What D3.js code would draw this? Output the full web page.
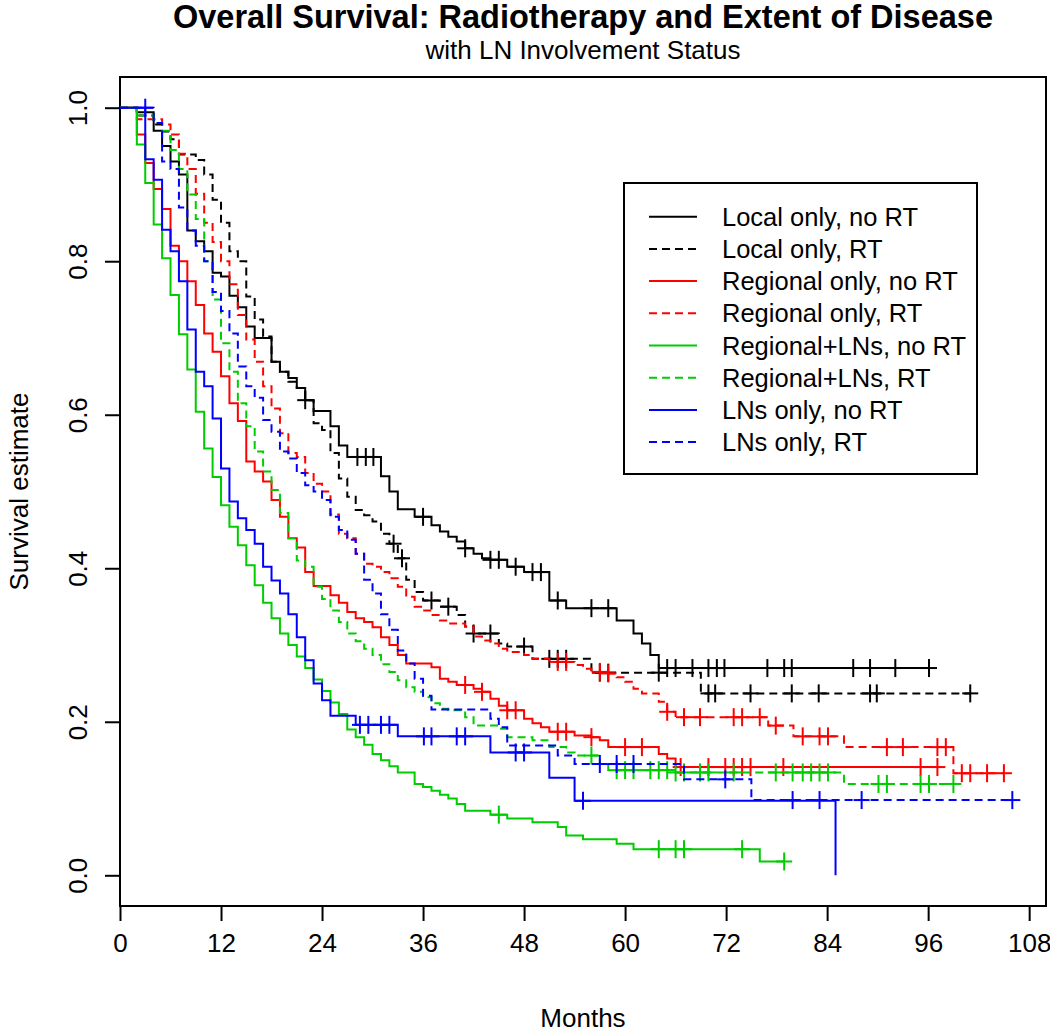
<!DOCTYPE html>
<html>
<head>
<meta charset="utf-8">
<script src="https://cdn.jsdelivr.net/npm/d3@7"></script>
<style>
  body { margin: 0; background: #fff; }
  text { font-family: "Liberation Sans", Arial, sans-serif; fill: #000; }
</style>
</head>
<body>
<svg width="1050" height="1032"></svg>
<script>
// Kaplan-Meier steps: [month, survival after the drop]
const localNoRT = [[0,1],[2,0.994],[4,0.97],[5,0.95],[6,0.93],[7,0.913],[8,0.84],[9,0.826],[10,0.813],[11,0.785],[12,0.78],[13,0.755],[14,0.74],[15,0.715],[16,0.70],[18,0.669],[19,0.656],[20,0.648],[21,0.635],[22,0.619],[23,0.605],[25,0.585],[26,0.56],[27,0.545],[31,0.52],[32,0.50],[33,0.477],[35,0.467],[37,0.456],[38,0.448],[39,0.441],[40,0.435],[41,0.426],[42,0.419],[43,0.413],[44,0.411],[46,0.402],[48,0.395],[51,0.358],[53,0.348],[59,0.332],[61,0.315],[62,0.302],[63,0.287],[64,0.27]];
const localRT = [[0,1],[2,0.99],[4,0.978],[5,0.969],[6,0.959],[7,0.939],[9,0.932],[10,0.913],[11,0.88],[12,0.85],[13,0.813],[14,0.80],[15,0.754],[16,0.724],[17,0.702],[18,0.669],[19,0.656],[20,0.643],[21,0.635],[22,0.619],[23,0.589],[24,0.58],[25,0.55],[26,0.517],[27,0.493],[28,0.476],[29,0.469],[30,0.461],[31,0.445],[32,0.432],[33,0.413],[34,0.385],[35,0.369],[36,0.358],[38,0.35],[40,0.339],[41,0.324],[42,0.315],[45,0.302],[46,0.298],[49,0.282],[56,0.264],[69,0.237]];
const regionalNoRT = [[0,1],[2,0.965],[3,0.928],[4,0.894],[5,0.868],[6,0.82],[7,0.80],[8,0.774],[9,0.743],[10,0.706],[11,0.682],[12,0.65],[13,0.615],[14,0.592],[15,0.539],[16,0.526],[17,0.513],[18,0.489],[19,0.467],[20,0.439],[21,0.427],[22,0.395],[23,0.377],[25,0.365],[26,0.355],[27,0.343],[28,0.335],[29,0.33],[30,0.323],[31,0.31],[32,0.30],[33,0.287],[34,0.276],[37,0.271],[38,0.256],[39,0.252],[40,0.248],[42,0.243],[43,0.239],[44,0.23],[45,0.221],[46,0.215],[48,0.204],[49,0.198],[50,0.193],[51,0.187],[54,0.182],[56,0.18],[57,0.176],[58,0.167],[64,0.158],[65,0.152],[66,0.141]];
const regionalRT = [[0,1],[2,0.985],[5,0.978],[6,0.965],[7,0.94],[8,0.92],[9,0.888],[10,0.85],[11,0.825],[12,0.80],[13,0.77],[14,0.73],[15,0.698],[16,0.669],[17,0.637],[18,0.608],[19,0.576],[20,0.55],[21,0.545],[22,0.524],[23,0.51],[24,0.50],[25,0.47],[26,0.445],[27,0.439],[28,0.419],[29,0.406],[30,0.402],[31,0.395],[32,0.387],[33,0.376],[34,0.363],[35,0.35],[36,0.345],[37,0.339],[38,0.332],[39,0.328],[41,0.324],[42,0.311],[43,0.306],[44,0.302],[45,0.295],[46,0.291],[48,0.287],[49,0.282],[51,0.278],[54,0.274],[55,0.269],[56,0.265],[58,0.263],[59,0.258],[60,0.252],[61,0.243],[62,0.237],[64,0.226],[65,0.213],[66,0.206],[77,0.195],[80,0.181],[86,0.167],[99,0.133]];
const regLNNoRT = [[0,1],[2,0.952],[3,0.902],[4,0.848],[5,0.804],[6,0.756],[7,0.705],[8,0.659],[9,0.604],[10,0.556],[11,0.519],[12,0.482],[13,0.454],[14,0.43],[15,0.404],[16,0.378],[17,0.355],[18,0.335],[19,0.315],[20,0.30],[21,0.285],[22,0.27],[23,0.255],[24,0.24],[25,0.225],[26,0.21],[27,0.19],[28,0.18],[29,0.17],[30,0.158],[31,0.15],[32,0.142],[33,0.134],[35,0.119],[36,0.115],[37,0.11],[38,0.105],[39,0.10],[40,0.093],[41,0.084],[44,0.079],[46,0.074],[49,0.069],[52,0.063],[53,0.052],[55,0.047],[59,0.041],[61,0.034],[76,0.018]];
const regLNRT = [[0,1],[2,0.99],[4,0.98],[5,0.97],[6,0.945],[7,0.92],[8,0.887],[9,0.855],[10,0.80],[11,0.75],[12,0.693],[13,0.656],[14,0.615],[15,0.585],[16,0.552],[17,0.526],[18,0.502],[19,0.472],[20,0.439],[21,0.41],[22,0.402],[23,0.376],[24,0.36],[25,0.345],[26,0.33],[27,0.315],[28,0.305],[29,0.295],[30,0.287],[31,0.275],[32,0.265],[33,0.254],[34,0.245],[35,0.239],[36,0.232],[37,0.224],[38,0.217],[39,0.215],[41,0.206],[42,0.195],[45,0.191],[46,0.18],[49,0.176],[51,0.167],[53,0.16],[54,0.156],[57,0.145],[58,0.137],[66,0.134],[86,0.119]];
const lnNoRT = [[0,1],[3,0.933],[4,0.906],[5,0.841],[6,0.813],[7,0.774],[8,0.711],[9,0.656],[10,0.637],[11,0.595],[12,0.53],[13,0.487],[14,0.465],[15,0.45],[16,0.432],[17,0.402],[18,0.384],[19,0.367],[20,0.34],[21,0.31],[22,0.28],[23,0.25],[24,0.228],[25,0.208],[28,0.196],[33,0.181],[44,0.16],[51,0.127],[54,0.097],[85,0]];
const lnRT = [[0,1],[4,0.98],[5,0.93],[6,0.92],[7,0.87],[8,0.84],[9,0.82],[10,0.80],[11,0.76],[12,0.735],[13,0.706],[14,0.663],[15,0.637],[16,0.622],[17,0.593],[18,0.578],[19,0.552],[20,0.543],[21,0.524],[22,0.508],[23,0.50],[24,0.489],[25,0.467],[26,0.45],[27,0.437],[28,0.419],[29,0.385],[30,0.367],[31,0.34],[32,0.32],[33,0.293],[34,0.276],[35,0.256],[36,0.234],[37,0.216],[44,0.204],[45,0.193],[46,0.169],[52,0.156],[54,0.145],[67,0.125],[75,0.098]];

// censored observations (months)
const localNoRTCens = [28.2,29.2,30.1,36,41,44,45,47,49,50,52,56,58,65,66,68,69.9,70.9,71.8,76.9,78.9,79.8,87.1,89.1,92.1,96.1];
const localRTCens = [22,32.5,33.5,37,39,42,44,48,51,52,53,57,58,64,69.9,70.7,74.9,79.8,83,89.1,89.9,101];
const regionalNoRTCens = [41,43,46,47,52,53,56,60,62,66.6,69.9,71.9,72.9,73.9,74.9,78.8,95.1,97.1];
const regionalRTCens = [52,53,57,58,65,67,68.9,72.9,73.9,76,77.9,81.1,83.1,84.1,91.1,93,97.1,98.1,100,101,103,105];
const regLNNoRTCens = [45,64,66,67,73.9,78.9];
const regLNRTCens = [56,59,60,61,63,64,65,66,67,68.9,69.9,72.9,77.9,79.9,81.1,82.1,83.1,84.1,90.1,91.1,95.1,96.1,99];
const lnNoRTCens = [28.5,29.5,31,32,36.1,37,40,41,47,48,55];
const lnRTCens = [3,57,59,61,71.9,79.9,83.1,88.1,106];

// last follow-up of each curve
const lastMonth = [96.1, 101, 97.1, 105, 78.9, 99, 85, 106];

const labels = ["Local only, no RT", "Local only, RT", "Regional only, no RT", "Regional only, RT",
                "Regional+LNs, no RT", "Regional+LNs, RT", "LNs only, no RT", "LNs only, RT"];
const colors = ["#000000", "#000000", "#ff0000", "#ff0000", "#00cd00", "#00cd00", "#0000ff", "#0000ff"];
const dashed = [false, true, false, true, false, true, false, true];
const xTicks = [0, 12, 24, 36, 48, 60, 72, 84, 96, 108];
const yTicks = [0, 0.2, 0.4, 0.6, 0.8, 1.0];

const stepsAll = [localNoRT, localRT, regionalNoRT, regionalRT, regLNNoRT, regLNRT, lnNoRT, lnRT];
const censAll = [localNoRTCens, localRTCens, regionalNoRTCens, regionalRTCens, regLNNoRTCens, regLNRTCens, lnNoRTCens, lnRTCens];

const svg = d3.select("svg");
svg.append("rect").attr("width", 1050).attr("height", 1032).attr("fill", "#fff");

const plotL = 120, plotR = 1046, plotT = 77, plotB = 906;
const x = d3.scaleLinear().domain([0, 110]).range([plotL, plotR]);
const y = d3.scaleLinear().domain([-0.04, 1.04]).range([plotB, plotT]);

const DASH = "8,5";

// axes
const xAxis = svg.append("g")
    .attr("transform", `translate(0,${plotB})`)
    .call(d3.axisBottom(x).tickValues(xTicks).tickSize(15).tickPadding(13).tickFormat(d3.format("d")));
const yAxis = svg.append("g")
    .attr("transform", `translate(${plotL},0)`)
    .call(d3.axisLeft(y).tickValues(yTicks).tickSize(15).tickFormat(d3.format(".1f")));

[xAxis, yAxis].forEach(g => {
    g.select(".domain").remove();
    g.selectAll("line").attr("stroke", "#000").attr("stroke-width", 2);
    g.selectAll("text").attr("font-size", 26).attr("font-family", "Liberation Sans, Arial, sans-serif").attr("fill", "#000");
});
xAxis.selectAll("text").attr("dy", "0.71em");
yAxis.selectAll("text")
    .attr("text-anchor", "middle")
    .attr("x", 0).attr("y", 0).attr("dy", 0)
    .attr("transform", "translate(-33,0) rotate(-90)");

// plot box
svg.append("rect")
    .attr("x", plotL).attr("y", plotT)
    .attr("width", plotR - plotL).attr("height", plotB - plotT)
    .attr("fill", "none").attr("stroke", "#000").attr("stroke-width", 2);

// curves
const curves = svg.append("g");
const line = d3.line().x(d => x(d[0])).y(d => y(d[1])).curve(d3.curveStepAfter);

function survAt(steps, t) {
    let s = 1;
    for (const p of steps) { if (p[0] <= t) s = p[1]; else break; }
    return s;
}

stepsAll.forEach((steps, i) => {
    const pts = steps.slice();
    const end = lastMonth[i];
    if (pts[pts.length - 1][0] < end) pts.push([end, pts[pts.length - 1][1]]);
    curves.append("path")
        .attr("d", line(pts))
        .attr("fill", "none")
        .attr("stroke", colors[i])
        .attr("stroke-width", 2)
        .attr("stroke-dasharray", dashed[i] ? DASH : null);

    const marks = curves.append("g").attr("stroke", colors[i]).attr("stroke-width", 2);
    censAll[i].forEach(t => {
        const cx = x(t), cy = y(survAt(steps, t));
        marks.append("line").attr("x1", cx - 8).attr("x2", cx + 8).attr("y1", cy).attr("y2", cy);
        marks.append("line").attr("x1", cx).attr("x2", cx).attr("y1", cy - 9).attr("y2", cy + 9);
    });
});

// titles
svg.append("text").attr("x", 583).attr("y", 28).attr("text-anchor", "middle")
    .attr("font-size", 32.5).attr("font-weight", "bold")
    .text("Overall Survival: Radiotherapy and Extent of Disease");
svg.append("text").attr("x", 583).attr("y", 59).attr("text-anchor", "middle")
    .attr("font-size", 26)
    .text("with LN Involvement Status");
svg.append("text").attr("x", 583).attr("y", 1027).attr("text-anchor", "middle")
    .attr("font-size", 26).text("Months");
svg.append("text").attr("transform", `translate(28,${(plotT + plotB) / 2}) rotate(-90)`)
    .attr("text-anchor", "middle").attr("font-size", 26).text("Survival estimate");

// legend
const legend = svg.append("g");
legend.append("rect").attr("x", 624).attr("y", 183).attr("width", 353).attr("height", 291)
    .attr("fill", "#fff").attr("stroke", "#000").attr("stroke-width", 2);
labels.forEach((lab, i) => {
    const ly = 216.7 + i * 32.2;
    legend.append("line").attr("x1", 649).attr("x2", 697).attr("y1", ly).attr("y2", ly)
        .attr("stroke", colors[i]).attr("stroke-width", 2)
        .attr("stroke-dasharray", dashed[i] ? DASH : null);
    legend.append("text").attr("x", 722).attr("y", ly + 9).attr("font-size", 25.5).text(lab);
});
</script>
</body>
</html>
